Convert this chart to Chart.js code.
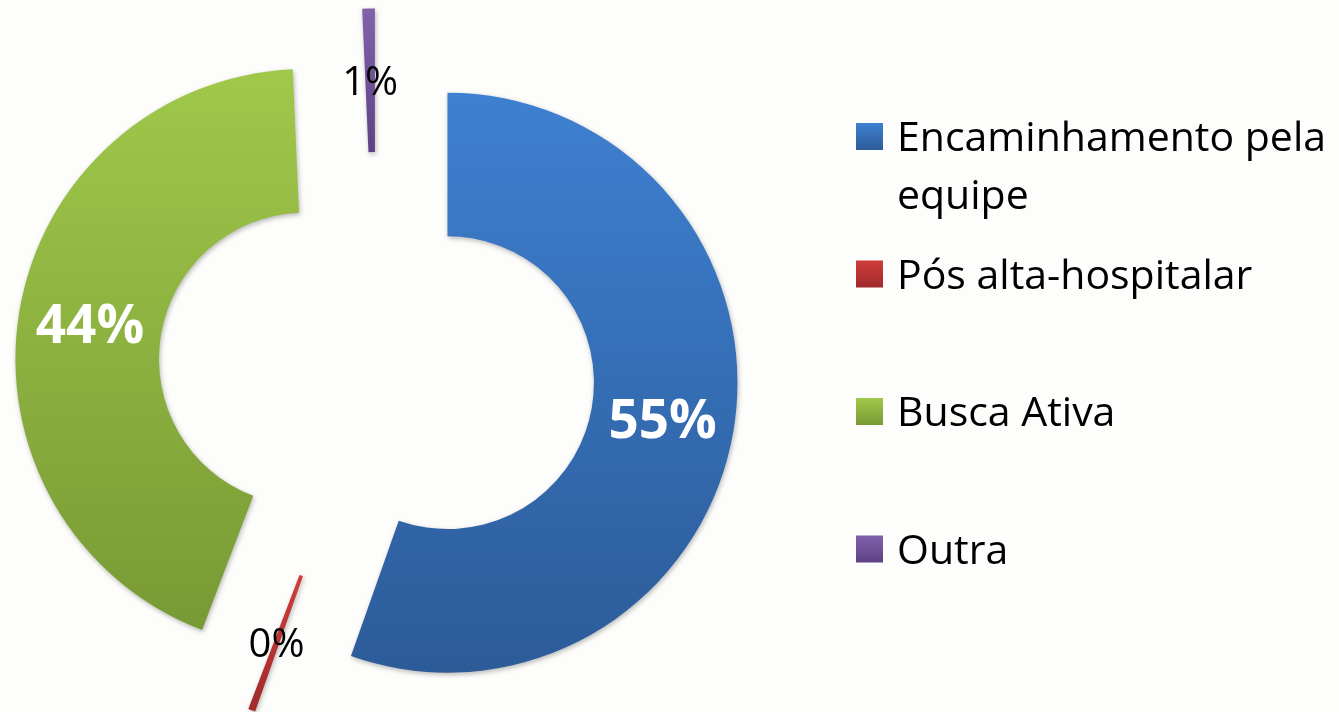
<!DOCTYPE html>
<html>
<head>
<meta charset="utf-8">
<script src="https://cdn.jsdelivr.net/npm/chart.js@4.4.1/dist/chart.umd.min.js"></script>
<style>
  html, body { margin: 0; padding: 0; background: #fdfdfc; }
  #wrap { width: 1339px; height: 712px; }
</style>
</head>
<body>
<div id="wrap"><canvas id="origemChart" width="1339" height="712"></canvas></div>
<script>
const categories = ['Encaminhamento pela equipe', 'Pós alta-hospitalar', 'Busca Ativa', 'Outra'];
const shares = [55.4, 0.4, 43.5, 0.7];
const topColors = ['#3e80d1', '#cf3d3c', '#a0c84a', '#8261ab'];
const bottomColors = ['#2c5b98', '#a02a2a', '#789a35', '#5d4184'];

const EXPLODE = 72; // distance each slice is pulled out
const total = shares.reduce((a, b) => a + b, 0);

const sliceAngles = (i) => {
    const before = shares.slice(0, i).reduce((a, b) => a + b, 0);
    const a0 = -Math.PI / 2 + before / total * Math.PI * 2;
    return [a0, a0 + shares[i] / total * Math.PI * 2];
};

// vertical gradient over the bounding box of each (exploded) slice
const sliceGradient = (c) => {
    const chart = c.chart;
    const area = chart.chartArea;
    const i = c.dataIndex;
    if (!area || i === undefined) return topColors[i] || '#888';
    const cy = (area.top + area.bottom) / 2;
    const rOut = 290, rIn = 290 * 0.505;
    const [a0, a1] = sliceAngles(i);
    const sy = cy + Math.sin((a0 + a1) / 2) * EXPLODE;
    let lo = Infinity, hi = -Infinity;
    for (let k = 0; k <= 60; k++) {
        const a = a0 + (a1 - a0) * k / 60;
        [rIn, rOut].forEach(r => {
            const y = sy + Math.sin(a) * r;
            lo = Math.min(lo, y);
            hi = Math.max(hi, y);
        });
    }
    const g = chart.ctx.createLinearGradient(0, lo, 0, hi);
    g.addColorStop(0, topColors[i]);
    g.addColorStop(1, bottomColors[i]);
    return g;
};

const explodePlugin = {
    id: 'explode',
    beforeDatasetsDraw(chart) {
        chart.getDatasetMeta(0).data.forEach(arc => {
            const m = (arc.startAngle + arc.endAngle) / 2;
            arc.x += Math.cos(m) * EXPLODE;
            arc.y += Math.sin(m) * EXPLODE;
        });
        const ctx = chart.ctx;
        ctx.save();
        ctx.shadowColor = 'rgba(0,0,0,0.28)';
        ctx.shadowBlur = 5;
        ctx.shadowOffsetX = 1;
        ctx.shadowOffsetY = 2;
    },
    afterDatasetsDraw(chart) {
        const ctx = chart.ctx;
        ctx.restore();
        ctx.save();
        ctx.textAlign = 'center';
        ctx.textBaseline = 'alphabetic';
        chart.getDatasetMeta(0).data.forEach((arc, i) => {
            const p = arc.getCenterPoint();
            const share = shares[i] / total;
            const big = share > 0.05;
            const size = big ? 53 : 40;
            ctx.font = (big ? 'bold ' : '') + size + 'px "Open Sans"';
            ctx.fillStyle = big ? '#ffffff' : '#000000';
            ctx.fillText(Math.round(share * 100) + '%', p.x, p.y + size * 0.357);
            const m = (arc.startAngle + arc.endAngle) / 2;
            arc.x -= Math.cos(m) * EXPLODE;
            arc.y -= Math.sin(m) * EXPLODE;
        });
        ctx.restore();
    }
};

const legendPlugin = {
    id: 'sideLegend',
    afterDraw(chart) {
        const ctx = chart.ctx;
        const boxX = chart.chartArea.right + 103;
        const textX = boxX + 41;
        const maxW = chart.width - textX;
        ctx.save();
        ctx.font = '41px "Open Sans"';
        ctx.textAlign = 'left';
        ctx.textBaseline = 'alphabetic';
        categories.forEach((name, i) => {
            const top = 123 + i * 137.5;
            const g = ctx.createLinearGradient(0, top, 0, top + 27);
            g.addColorStop(0, topColors[i]);
            g.addColorStop(1, bottomColors[i]);
            ctx.fillStyle = g;
            ctx.fillRect(boxX, top, 27, 27);

            // wrap long labels
            const lines = [];
            let line = '';
            name.split(' ').forEach(w => {
                const test = line ? line + ' ' + w : w;
                if (line && ctx.measureText(test).width > maxW) {
                    lines.push(line);
                    line = w;
                } else {
                    line = test;
                }
            });
            lines.push(line);
            ctx.fillStyle = '#000000';
            lines.forEach((l, k) => ctx.fillText(l, textX, top + 28 + k * 58));
        });
        ctx.restore();
    }
};

new Chart(document.getElementById('origemChart'), {
    type: 'doughnut',
    data: {
        labels: categories,
        datasets: [{
            data: shares,
            backgroundColor: sliceGradient,
            borderWidth: 0
        }]
    },
    options: {
        responsive: false,
        devicePixelRatio: 1,
        animation: false,
        radius: 290,
        cutout: '50.5%',
        layout: { padding: { left: 0, right: 586, top: 29, bottom: 0 } },
        plugins: {
            legend: { display: false },
            tooltip: { enabled: false }
        }
    },
    plugins: [explodePlugin, legendPlugin]
});
</script>
</body>
</html>
